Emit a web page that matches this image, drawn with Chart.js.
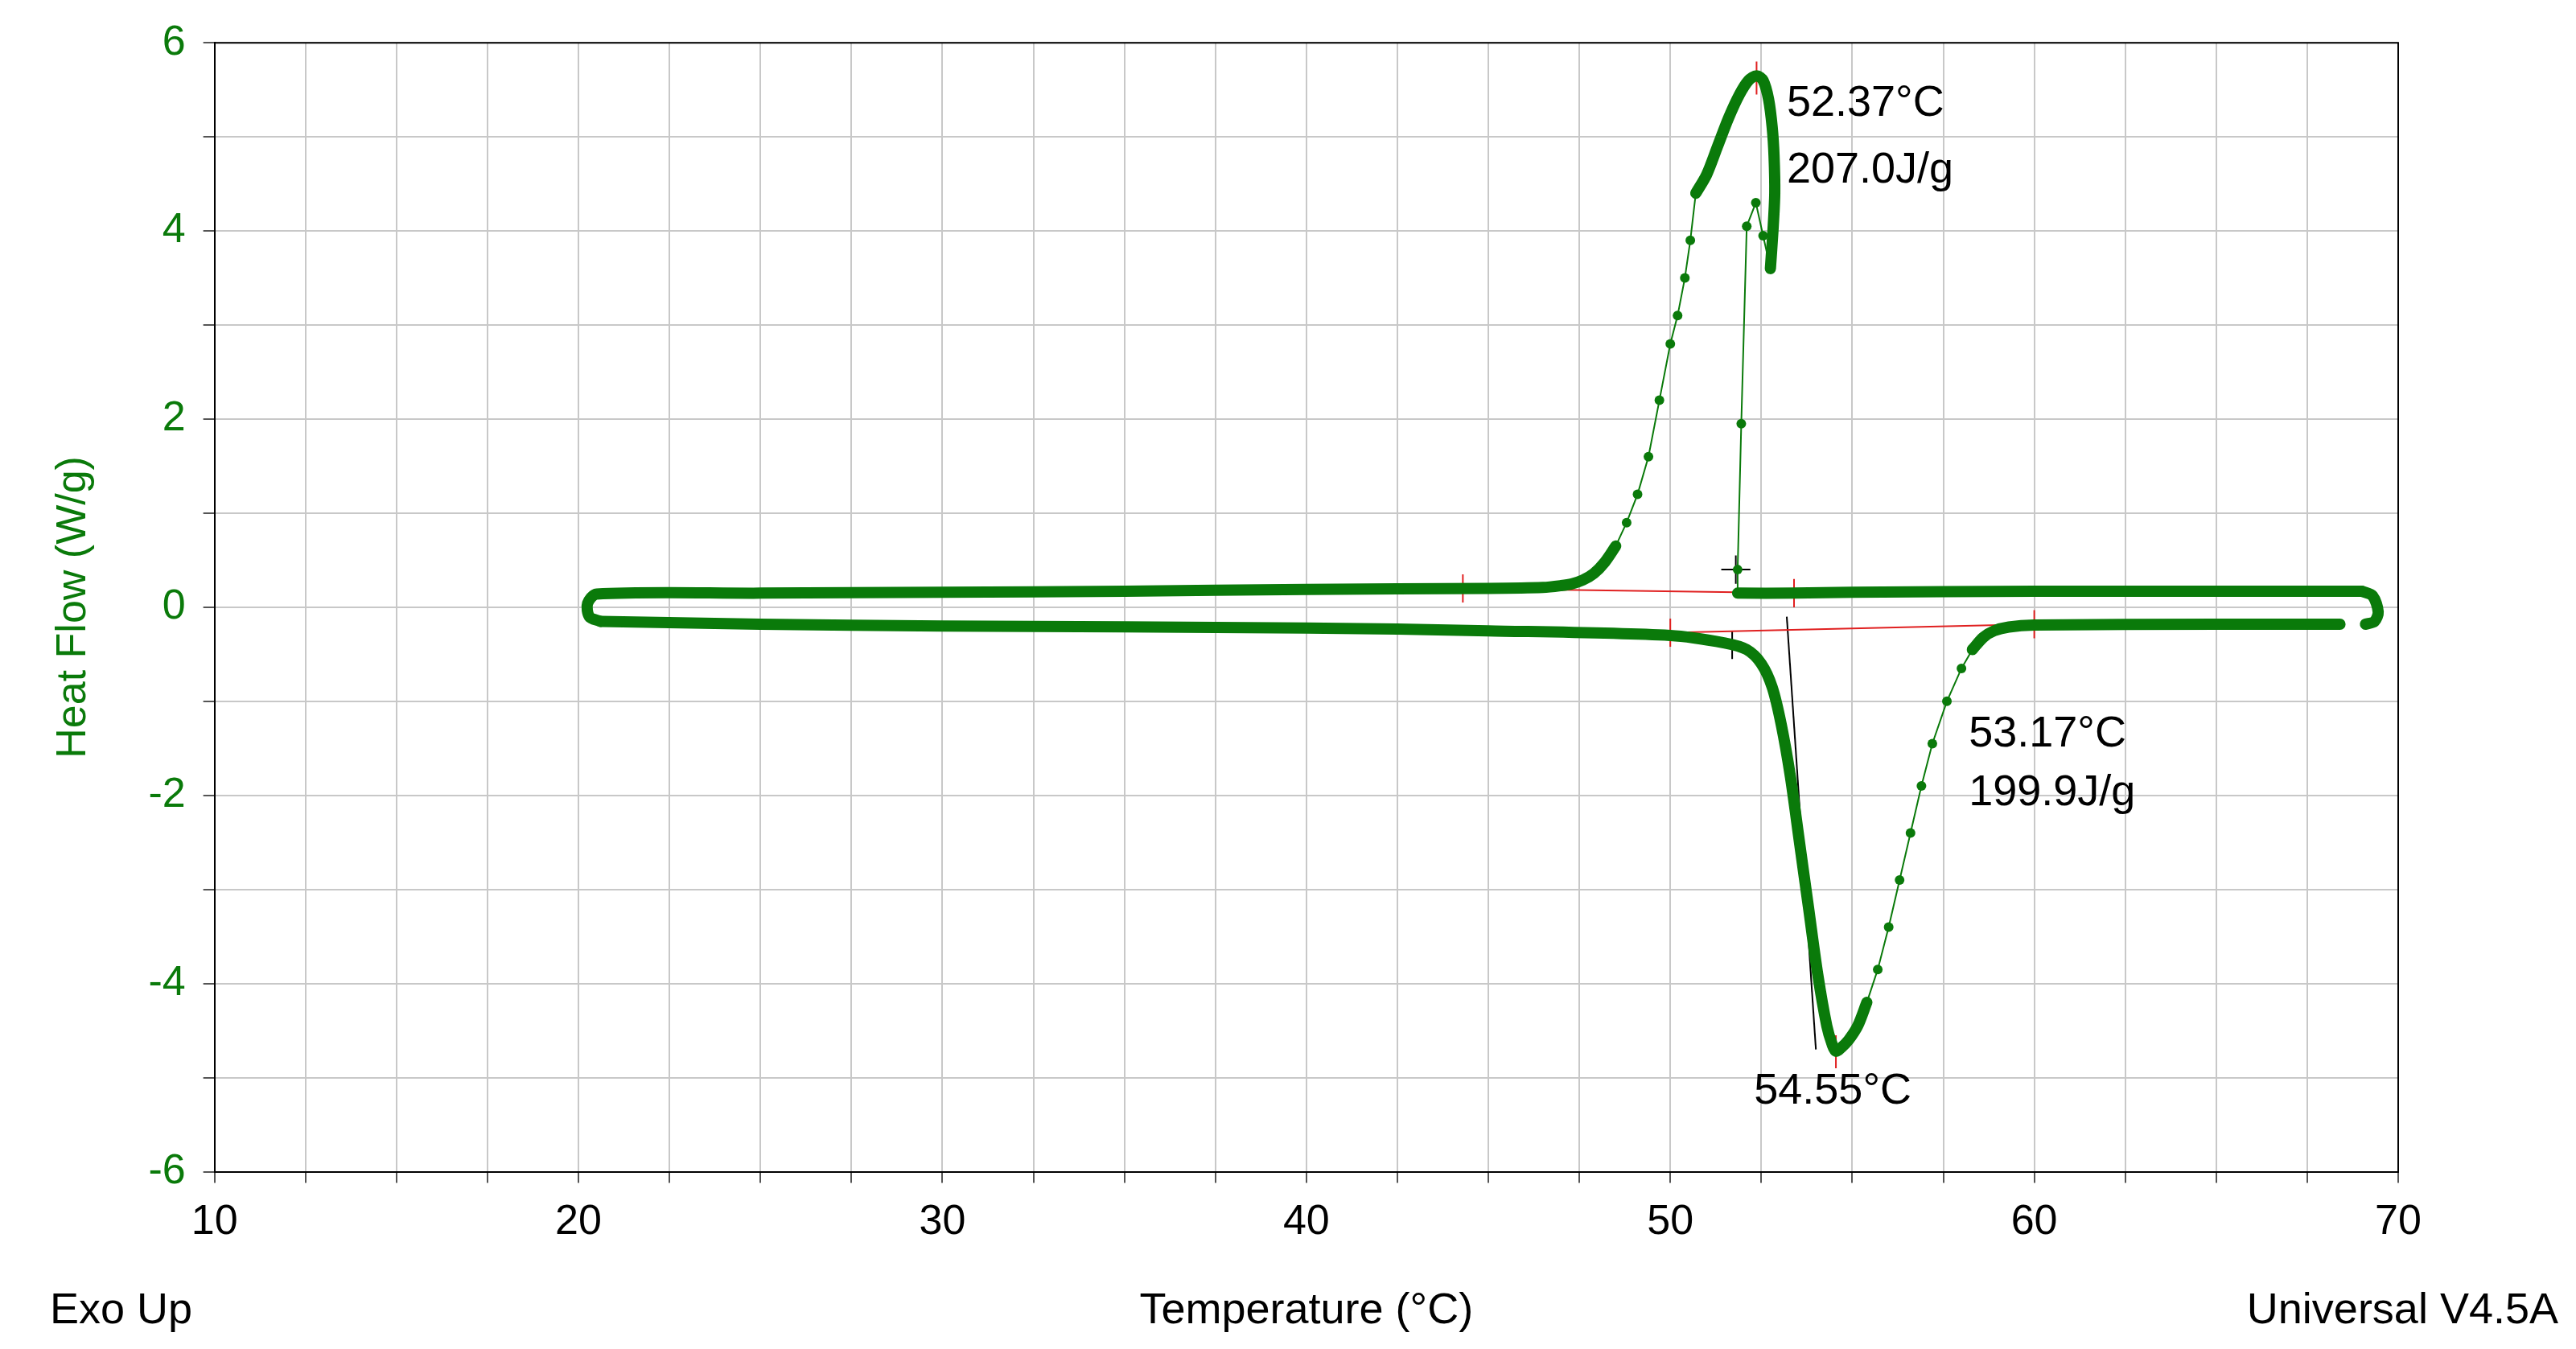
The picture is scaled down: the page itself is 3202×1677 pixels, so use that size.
<!DOCTYPE html>
<html>
<head>
<meta charset="utf-8">
<script src="https://cdn.jsdelivr.net/npm/chart.js@4.4.1/dist/chart.umd.min.js"></script>
<style>
  html, body { margin: 0; padding: 0; background: #fff; }
  #wrap { width: 3202px; height: 1677px; }
</style>
</head>
<body>
<div id="wrap"><canvas id="dsc" width="3202" height="1677"></canvas></div>
<script>
// Curva de enfriamiento (de 69 °C hacia 20 °C), tramos densos y tramos con puntos
const coolBaseX = [69.0, 65, 60, 55, 53.4, 51.85];
const coolBaseY = [0.17, 0.17, 0.17, 0.16, 0.15, 0.15];
const coolSpikeX = [51.85, 51.85, 51.95, 52.1, 52.35, 52.55, 52.75];
const coolSpikeY = [0.15, 0.4, 1.95, 4.05, 4.3, 3.95, 3.6];
const coolArcX = [52.75, 52.82, 52.87, 52.85, 52.8, 52.7, 52.55, 52.37, 52.15, 51.9, 51.6, 51.3, 51.0, 50.7];
const coolArcY = [3.6, 4.0, 4.4, 4.8, 5.1, 5.4, 5.6, 5.65, 5.6, 5.45, 5.2, 4.9, 4.6, 4.4];
const coolFallX = [50.7, 50.55, 50.4, 50.2, 50.0, 49.7, 49.4, 49.1, 48.8, 48.5];
const coolFallY = [4.4, 3.9, 3.5, 3.1, 2.8, 2.2, 1.6, 1.2, 0.9, 0.65];
const coolTailX = [48.5, 48.2, 47.9, 47.6, 47.3, 47.0, 46.5, 45, 40, 35, 30, 25, 20.5, 20.25, 20.3, 20.6];
const coolTailY = [0.65, 0.48, 0.36, 0.29, 0.25, 0.23, 0.21, 0.2, 0.19, 0.17, 0.16, 0.15, 0.14, 0.04, -0.1, -0.15];

// Curva de calentamiento (de 20 °C hacia 69 °C)
const heatMainX = [20.6, 25, 30, 40, 45, 50, 51.5, 52.1, 52.5, 52.8, 53.05, 53.3, 53.55, 53.8, 54.05, 54.3, 54.45, 54.55, 54.7, 54.9, 55.15, 55.4];
const heatMainY = [-0.15, -0.18, -0.2, -0.22, -0.25, -0.3, -0.38, -0.45, -0.6, -0.85, -1.25, -1.8, -2.5, -3.2, -3.9, -4.45, -4.65, -4.72, -4.68, -4.6, -4.45, -4.2];
const heatRiseX = [55.4, 55.7, 56.0, 56.3, 56.6, 56.9, 57.2, 57.6, 58.0, 58.3];
const heatRiseY = [-4.2, -3.85, -3.4, -2.9, -2.4, -1.9, -1.45, -1.0, -0.65, -0.45];
const heatEndX = [58.3, 58.6, 58.9, 59.3, 60, 65, 68.4];
const heatEndY = [-0.45, -0.32, -0.25, -0.21, -0.19, -0.18, -0.18];
const hookX = [69.0, 69.3, 69.45, 69.35, 69.1];
const hookY = [0.17, 0.12, -0.05, -0.15, -0.18];

// Líneas de análisis (base, tangente, marcas)
const redLines = [
  [[44.3, 0.2], [53.4, 0.15]],
  [[44.3, 0.35], [44.3, 0.05]],
  [[53.4, 0.3], [53.4, 0.0]],
  [[50.0, -0.27], [60.0, -0.18]],
  [[50.0, -0.12], [50.0, -0.42]],
  [[60.0, -0.03], [60.0, -0.33]],
  [[52.37, 5.8], [52.37, 5.45]],
  [[54.55, -4.55], [54.55, -4.9]]
];
const blackLines = [
  [[53.2, -0.1], [54.0, -4.7]],
  [[51.4, 0.4], [52.2, 0.4]],
  [[51.8, 0.55], [51.8, 0.25]],
  [[51.3, -0.4], [52.1, -0.4]],
  [[51.7, -0.25], [51.7, -0.55]]
];

const labels = [
  { x: 53.2, y: 5.35, lines: ['52.37°C', '207.0J/g'], gap: 58 },
  { x: 58.2, y: -1.35, lines: ['53.17°C', '199.9J/g'], gap: 48 },
  { x: 52.3, y: -5.15, lines: ['54.55°C'], gap: 0 }
];

const green = '#0a7a0a';
const font = '"Liberation Sans", Arial, sans-serif';
const pts = (xs, ys) => xs.map((x, i) => ({ x: x, y: ys[i] }));

function dense(xs, ys) {
  return { data: pts(xs, ys), showLine: true, borderColor: green, borderWidth: 14, tension: 0.3,
           pointRadius: 0, borderJoinStyle: 'round', borderCapStyle: 'round' };
}
function dotted(xs, ys) {
  return { data: pts(xs, ys), showLine: true, borderColor: green, borderWidth: 2,
           pointRadius: 6, pointBackgroundColor: green, pointBorderWidth: 0 };
}
function seg(p, color) {
  return { data: p.map(q => ({ x: q[0], y: q[1] })), showLine: true, borderColor: color,
           borderWidth: 2, pointRadius: 0 };
}

const datasets = [
  dense(coolBaseX, coolBaseY),
  dotted(coolSpikeX, coolSpikeY),
  dense(coolArcX, coolArcY),
  dotted(coolFallX, coolFallY),
  dense(coolTailX, coolTailY),
  dense(heatMainX, heatMainY),
  dotted(heatRiseX, heatRiseY),
  dense(heatEndX, heatEndY),
  dense(hookX, hookY)
];
redLines.forEach(l => datasets.push(seg(l, '#e02020')));
blackLines.forEach(l => datasets.push(seg(l, '#000')));

const textPlugin = {
  id: 'dscText',
  afterDraw(chart) {
    const ctx = chart.ctx, xs = chart.scales.x, ys = chart.scales.y, a = chart.chartArea;
    ctx.save();
    ctx.fillStyle = '#000';
    ctx.font = '54px ' + font;
    ctx.textBaseline = 'middle';
    ctx.textAlign = 'left';
    labels.forEach(l => {
      l.lines.forEach((t, i) => {
        ctx.fillText(t, xs.getPixelForValue(l.x), ys.getPixelForValue(l.y) + i * (l.gap + 25));
      });
    });
    ctx.textBaseline = 'alphabetic';
    ctx.fillText('Exo Up', 62, 1645);
    ctx.textAlign = 'center';
    ctx.fillText('Temperature (°C)', (a.left + a.right) / 2, 1645);
    ctx.textAlign = 'right';
    ctx.fillText('Universal V4.5A', 3180, 1645);
    // marco superior y derecho
    ctx.strokeStyle = '#000';
    ctx.lineWidth = 2;
    ctx.beginPath();
    ctx.moveTo(a.left, a.top); ctx.lineTo(a.right, a.top); ctx.lineTo(a.right, a.bottom);
    ctx.stroke();
    ctx.restore();
  }
};

new Chart(document.getElementById('dsc'), {
  type: 'scatter',
  data: { datasets: datasets },
  plugins: [textPlugin],
  options: {
    responsive: false,
    animation: false,
    devicePixelRatio: 1,
    layout: { padding: { top: 45, right: 221, bottom: 108, left: 20 } },
    plugins: { legend: { display: false }, tooltip: { enabled: false } },
    scales: {
      x: {
        type: 'linear', min: 10, max: 70,
        ticks: { stepSize: 2.5, autoSkip: false, color: '#000', padding: 18,
                 font: { size: 52, family: font },
                 callback: v => (v % 10 === 0 ? String(v) : '') },
        grid: { color: '#c8c8c8', lineWidth: 2, tickLength: 14, tickColor: '#555' },
        border: { color: '#000', width: 2 }
      },
      y: {
        min: -6, max: 6,
        ticks: { stepSize: 1, autoSkip: false, color: green, padding: 22,
                 font: { size: 52, family: font },
                 callback: v => (v % 2 === 0 ? String(v) : '') },
        title: { display: true, text: 'Heat Flow (W/g)', color: green, padding: 40,
                 font: { size: 52, family: font } },
        grid: { color: '#c8c8c8', lineWidth: 2, tickLength: 14, tickColor: '#555' },
        border: { color: '#000', width: 2 }
      }
    }
  }
});
</script>
</body>
</html>
